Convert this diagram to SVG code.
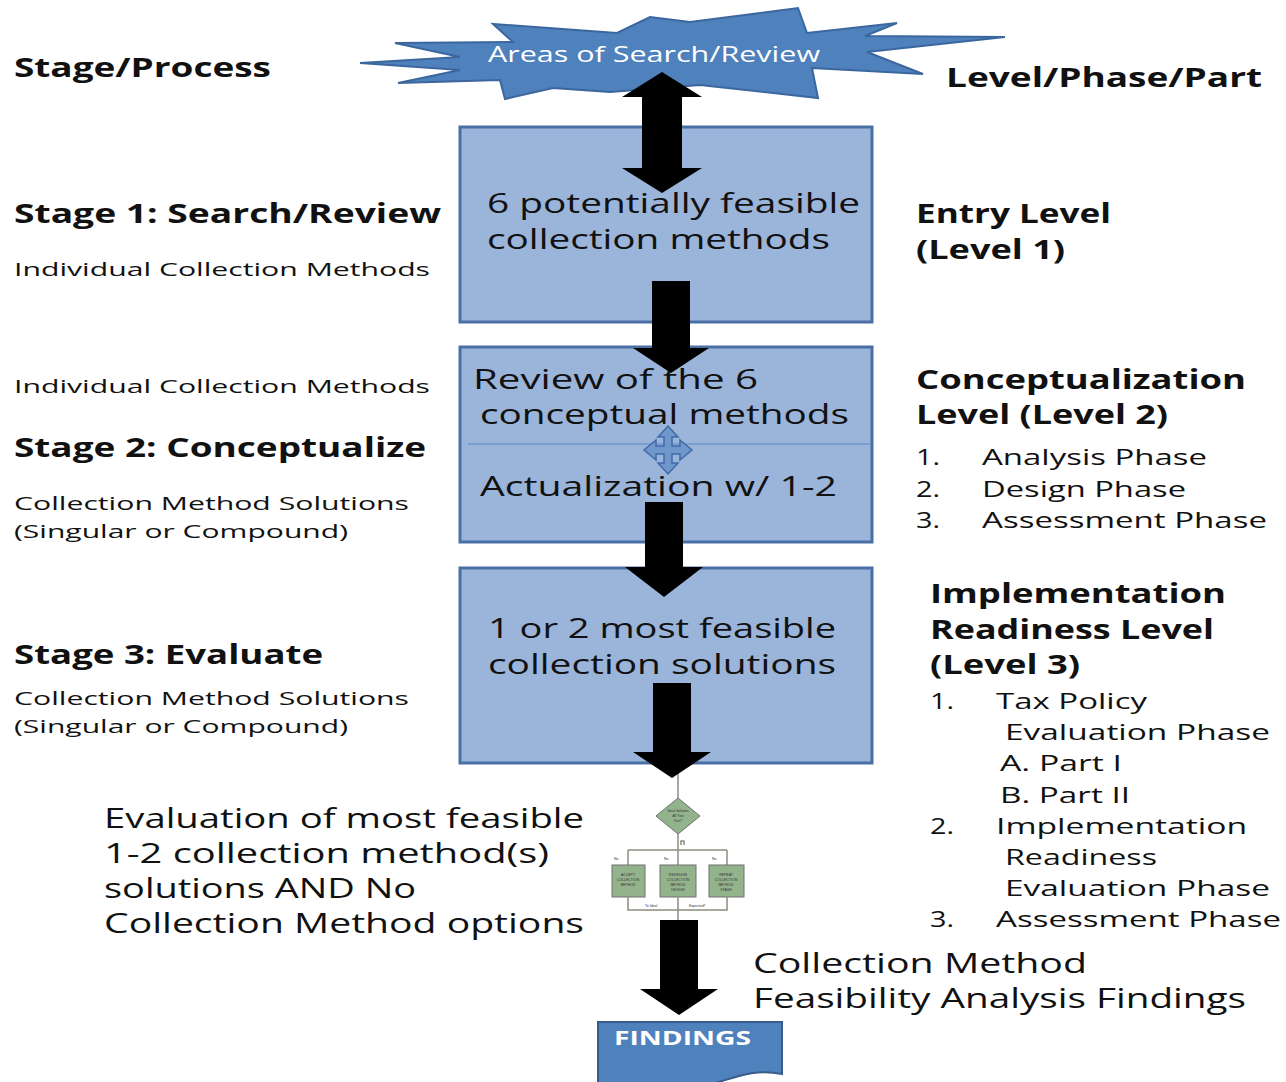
<svg xmlns="http://www.w3.org/2000/svg" width="1286" height="1082" viewBox="0 0 1286 1082">
<style>
.t{font-family:"Open Sans","Liberation Sans",sans-serif;fill:#111}
.b{font-weight:bold}
.h{font-size:26px}
.s{font-size:19px}
.m{font-size:28px}
.l{font-size:22px}
.box{fill:#9bb4d9;stroke:#4a6fa5;stroke-width:3}
.arr{fill:#000}
.fl{stroke:#8c8c80;stroke-width:1.5;fill:none}
.gb{fill:#93b38c;stroke:#707070;stroke-width:1}
.tiny{font-family:"Liberation Sans",sans-serif;font-size:3.5px;fill:#333}
</style>
<rect width="1286" height="1082" fill="#fff"/>

<g id="star">
<polygon points="360,63 460,57 395,43 513,42 493,24 617,33 650,17 690,22 798,8 807,33 897,23 865,36 1005,37 867,52 923,74 812,68 818,98 700,85 610,92 553,88 505,99 500,80 398,83 460,70" fill="#4f81bd" stroke="#3b679e" stroke-width="2" stroke-linejoin="miter"/>
<text class="t" x="488" y="62" textLength="332" lengthAdjust="spacingAndGlyphs" style="font-size:22px;fill:#fff">Areas of Search/Review</text>
</g>

<g id="box1">
<rect class="box" x="460" y="127" width="412" height="195"/>
<text class="t m" x="487" y="213" textLength="373" lengthAdjust="spacingAndGlyphs">6 potentially feasible</text>
<text class="t m" x="487" y="249" textLength="343" lengthAdjust="spacingAndGlyphs">collection methods</text>
</g>

<g id="box2">
<rect class="box" x="460" y="347" width="412" height="195"/>
<line x1="468" y1="444" x2="870" y2="444" stroke="#5b87c2" stroke-width="1.2"/>
<text class="t m" x="473" y="389" textLength="285" lengthAdjust="spacingAndGlyphs">Review  of the 6</text>
<text class="t m" x="480" y="424" textLength="369" lengthAdjust="spacingAndGlyphs">conceptual methods</text>
<text class="t m" x="480" y="496" textLength="357" lengthAdjust="spacingAndGlyphs">Actualization w/ 1-2</text>
<polygon points="668,426 678,437 672,437 672,446 680,446 680,440 692,450 680,460 680,454 672,454 672,463 678,463 668,474 658,463 664,463 664,454 656,454 656,460 644,450 656,440 656,446 664,446 664,437 658,437" fill="#7097cc" stroke="#3f6aa8" stroke-width="1.5"/>
</g>

<g id="box3">
<rect class="box" x="460" y="568" width="412" height="195"/>
<text class="t m" x="488" y="638" textLength="348" lengthAdjust="spacingAndGlyphs">1 or 2 most feasible</text>
<text class="t m" x="488" y="674" textLength="348" lengthAdjust="spacingAndGlyphs">collection solutions</text>
</g>

<g id="flowchart">
<line class="fl" x1="678" y1="770" x2="678" y2="798"/>
<polygon points="678,798 700,816 678,834 656,816" fill="#93b38c" stroke="#707070" stroke-width="1"/>
<text class="tiny" x="678" y="812" text-anchor="middle">Ideal Solution</text>
<text class="tiny" x="678" y="817" text-anchor="middle">All  Two</text>
<text class="tiny" x="678" y="822" text-anchor="middle">Test?</text>
<line class="fl" x1="678" y1="834" x2="678" y2="850"/>
<path class="fl" d="M681,845 V841 H684 V845" stroke-width="0.8"/>
<line class="fl" x1="628" y1="850" x2="727" y2="850"/>
<line class="fl" x1="628" y1="850" x2="628" y2="865"/>
<line class="fl" x1="678" y1="850" x2="678" y2="865"/>
<line class="fl" x1="727" y1="850" x2="727" y2="865"/>
<text class="tiny" x="614" y="860">No</text>
<text class="tiny" x="664" y="860">No</text>
<text class="tiny" x="712" y="860">No</text>
<rect class="gb" x="612" y="865" width="33" height="32"/>
<rect class="gb" x="660" y="865" width="36" height="32"/>
<rect class="gb" x="709" y="865" width="35" height="32"/>
<text class="tiny" x="628" y="876" text-anchor="middle">ACCEPT</text>
<text class="tiny" x="628" y="881" text-anchor="middle">COLLECTION</text>
<text class="tiny" x="628" y="886" text-anchor="middle">METHOD</text>
<text class="tiny" x="678" y="876" text-anchor="middle">REDESIGN</text>
<text class="tiny" x="678" y="881" text-anchor="middle">COLLECTION</text>
<text class="tiny" x="678" y="886" text-anchor="middle">METHOD</text>
<text class="tiny" x="678" y="891" text-anchor="middle">DESIGN</text>
<text class="tiny" x="726" y="876" text-anchor="middle">REPEAT</text>
<text class="tiny" x="726" y="881" text-anchor="middle">COLLECTION</text>
<text class="tiny" x="726" y="886" text-anchor="middle">METHOD</text>
<text class="tiny" x="726" y="891" text-anchor="middle">STAGE</text>
<path class="fl" d="M628,897 V910 H727 V897 M678,897 V920"/>
<text class="tiny" x="645" y="907">To Ideal</text>
<text class="tiny" x="689" y="907">Expected?</text>
</g>

<g id="findings">
<path d="M598,1022 H782 V1074 C745,1066 722,1086 690,1088 H598 Z" fill="#4f81bd" stroke="#385d8a" stroke-width="2"/>
<text class="t b" x="614" y="1045" textLength="137" lengthAdjust="spacingAndGlyphs" style="font-size:19px;fill:#fff">FINDINGS</text>
</g>

<g id="connectors">
<polygon class="arr" points="662,72 702,97 682,97 682,168 702,168 662,193 622,168 642,168 642,97 622,97"/>
<polygon class="arr" points="652,281 690,281 690,348 709,348 671,373 633,348 652,348"/>
<polygon class="arr" points="645,502 683,502 683,567 703,567 664,597 625,567 645,567"/>
<polygon class="arr" points="653,683 691,683 691,752 711,752 672,778 633,752 653,752"/>
<polygon class="arr" points="660,920 698,920 698,989 718,989 679,1015 640,989 660,989"/>
</g>

<g id="left-labels">
<text class="t b h" x="14" y="77" textLength="257" lengthAdjust="spacingAndGlyphs">Stage/Process</text>
<text class="t b h" x="14" y="223" textLength="427" lengthAdjust="spacingAndGlyphs">Stage 1: Search/Review</text>
<text class="t s" x="14" y="276" textLength="416" lengthAdjust="spacingAndGlyphs">Individual Collection  Methods</text>
<text class="t s" x="14" y="393" textLength="416" lengthAdjust="spacingAndGlyphs">Individual Collection  Methods</text>
<text class="t b h" x="14" y="457" textLength="412" lengthAdjust="spacingAndGlyphs">Stage 2: Conceptualize</text>
<text class="t s" x="14" y="510" textLength="395" lengthAdjust="spacingAndGlyphs">Collection Method Solutions</text>
<text class="t s" x="14" y="538" textLength="334" lengthAdjust="spacingAndGlyphs">(Singular or Compound)</text>
<text class="t b h" x="14" y="664" textLength="309" lengthAdjust="spacingAndGlyphs">Stage 3: Evaluate</text>
<text class="t s" x="14" y="705" textLength="395" lengthAdjust="spacingAndGlyphs">Collection Method Solutions</text>
<text class="t s" x="14" y="733" textLength="334" lengthAdjust="spacingAndGlyphs">(Singular or Compound)</text>
<text class="t m" x="104" y="828" textLength="480" lengthAdjust="spacingAndGlyphs">Evaluation of most feasible</text>
<text class="t m" x="104" y="863" textLength="445" lengthAdjust="spacingAndGlyphs">1-2   collection method(s)</text>
<text class="t m" x="104" y="898" textLength="312" lengthAdjust="spacingAndGlyphs">solutions AND No</text>
<text class="t m" x="104" y="933" textLength="480" lengthAdjust="spacingAndGlyphs">Collection Method options</text>
</g>

<g id="right-labels">
<text class="t b h" x="946" y="87" textLength="316" lengthAdjust="spacingAndGlyphs">Level/Phase/Part</text>
<text class="t b h" x="916" y="223" textLength="195" lengthAdjust="spacingAndGlyphs">Entry Level</text>
<text class="t b h" x="916" y="259" textLength="149" lengthAdjust="spacingAndGlyphs">(Level 1)</text>
<text class="t b h" x="916" y="389" textLength="330" lengthAdjust="spacingAndGlyphs">Conceptualization</text>
<text class="t b h" x="916" y="424" textLength="252" lengthAdjust="spacingAndGlyphs">Level (Level 2)</text>
<text class="t l" x="916" y="465" textLength="24" lengthAdjust="spacingAndGlyphs">1.</text>
<text class="t l" x="982" y="465" textLength="225" lengthAdjust="spacingAndGlyphs">Analysis Phase</text>
<text class="t l" x="916" y="497" textLength="24" lengthAdjust="spacingAndGlyphs">2.</text>
<text class="t l" x="982" y="497" textLength="204" lengthAdjust="spacingAndGlyphs">Design Phase</text>
<text class="t l" x="916" y="528" textLength="24" lengthAdjust="spacingAndGlyphs">3.</text>
<text class="t l" x="982" y="528" textLength="285" lengthAdjust="spacingAndGlyphs">Assessment  Phase</text>
<text class="t b h" x="930" y="603" textLength="296" lengthAdjust="spacingAndGlyphs">Implementation</text>
<text class="t b h" x="930" y="639" textLength="284" lengthAdjust="spacingAndGlyphs">Readiness Level</text>
<text class="t b h" x="930" y="674" textLength="150" lengthAdjust="spacingAndGlyphs">(Level 3)</text>
<text class="t l" x="930" y="709" textLength="24" lengthAdjust="spacingAndGlyphs">1.</text>
<text class="t l" x="996" y="709" textLength="151" lengthAdjust="spacingAndGlyphs">Tax Policy</text>
<text class="t l" x="1005" y="740" textLength="265" lengthAdjust="spacingAndGlyphs">Evaluation Phase</text>
<text class="t l" x="1000" y="771" textLength="122" lengthAdjust="spacingAndGlyphs">A. Part I</text>
<text class="t l" x="1000" y="803" textLength="130" lengthAdjust="spacingAndGlyphs">B. Part II</text>
<text class="t l" x="930" y="834" textLength="24" lengthAdjust="spacingAndGlyphs">2.</text>
<text class="t l" x="996" y="834" textLength="251" lengthAdjust="spacingAndGlyphs">Implementation</text>
<text class="t l" x="1005" y="865" textLength="152" lengthAdjust="spacingAndGlyphs">Readiness</text>
<text class="t l" x="1005" y="896" textLength="265" lengthAdjust="spacingAndGlyphs">Evaluation Phase</text>
<text class="t l" x="930" y="927" textLength="24" lengthAdjust="spacingAndGlyphs">3.</text>
<text class="t l" x="996" y="927" textLength="285" lengthAdjust="spacingAndGlyphs">Assessment  Phase</text>
<text class="t m" x="753" y="973" textLength="334" lengthAdjust="spacingAndGlyphs">Collection Method</text>
<text class="t m" x="753" y="1008" textLength="493" lengthAdjust="spacingAndGlyphs">Feasibility Analysis Findings</text>
</g>
</svg>
